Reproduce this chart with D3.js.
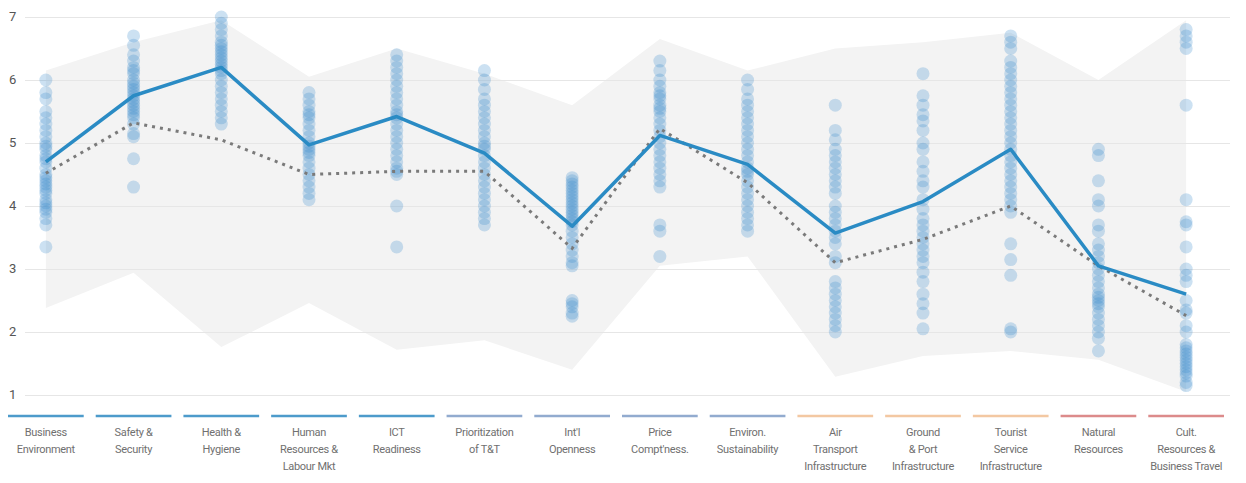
<!DOCTYPE html>
<html>
<head>
<meta charset="utf-8">
<script src="https://cdn.jsdelivr.net/npm/d3@7"></script>
<style>
  body{margin:0;background:#fff;}
  svg{display:block;}
  .lbl{font-family:Roboto,"Liberation Sans",sans-serif;font-size:11px;fill:#707070;letter-spacing:-0.3px;}
  .ytick{font-family:Roboto,"Liberation Sans",sans-serif;font-size:13px;fill:#555;}
</style>
</head>
<body>
<svg id="chart" width="1246" height="483"></svg>
<script>
// pillars
const pillars=["Business Environment","Safety & Security","Health & Hygiene","Human Resources & Labour Mkt","ICT Readiness","Prioritization of T&T","Int'l Openness","Price Compt'ness.","Environ. Sustainability","Air Transport Infrastructure","Ground & Port Infrastructure","Tourist Service Infrastructure","Natural Resources","Cult. Resources & Business Travel"];
const labelLines=[["Business","Environment"],["Safety &","Security"],["Health &","Hygiene"],["Human","Resources &","Labour Mkt"],["ICT","Readiness"],["Prioritization","of T&T"],["Int'l","Openness"],["Price","Compt'ness."],["Environ.","Sustainability"],["Air","Transport","Infrastructure"],["Ground","& Port","Infrastructure"],["Tourist","Service","Infrastructure"],["Natural","Resources"],["Cult.","Resources &","Business Travel"]];
const groupColors=["#4d9bcb","#4d9bcb","#4d9bcb","#4d9bcb","#4d9bcb","#92abcf","#92abcf","#92abcf","#92abcf","#f3c8a2","#f3c8a2","#f3c8a2","#dc8b8b","#dc8b8b"];

// solid line = selected, dotted = average
const mainValues=[4.7,5.75,6.2,4.97,5.42,4.84,3.68,5.12,4.66,3.57,4.07,4.9,3.05,2.6];
const avgValues=[4.52,5.32,5.05,4.5,4.55,4.55,3.33,5.23,4.37,3.1,3.47,4.0,3.05,2.26];

// grey range band
const bandMax=[6.15,6.6,6.95,6.05,6.5,6.1,5.6,6.65,6.15,6.5,6.6,6.75,6.0,6.95];
const bandMin=[2.38,2.94,1.76,2.46,1.72,1.87,1.4,3.05,3.2,1.29,1.62,1.7,1.56,1.05];

// country scores per pillar
const scores=[
  [6.0,5.8,5.7,5.5,5.4,5.3,5.2,5.1,5.0,4.95,4.9,4.8,4.75,4.7,4.6,4.5,4.45,4.4,4.35,4.3,4.25,4.2,4.1,4.05,4.0,3.95,3.9,3.8,3.7,3.35],
  [6.7,6.55,6.4,6.3,6.2,6.15,6.1,6.0,5.95,5.9,5.85,5.8,5.75,5.7,5.65,5.6,5.55,5.5,5.45,5.4,5.3,5.15,5.1,4.75,4.3],
  [7.0,6.9,6.8,6.7,6.6,6.55,6.5,6.45,6.4,6.35,6.3,6.25,6.2,6.15,6.1,6.0,5.9,5.8,5.7,5.6,5.5,5.4,5.3],
  [5.8,5.7,5.6,5.5,5.45,5.4,5.3,5.2,5.1,5.0,4.95,4.9,4.85,4.8,4.7,4.6,4.5,4.4,4.3,4.2,4.1],
  [6.4,6.3,6.2,6.1,6.0,5.9,5.8,5.7,5.6,5.5,5.45,5.4,5.3,5.2,5.1,5.0,4.9,4.8,4.7,4.6,4.55,4.5,4.0,3.35],
  [6.15,6.0,5.85,5.7,5.6,5.5,5.4,5.3,5.2,5.1,5.0,4.95,4.9,4.8,4.7,4.6,4.5,4.4,4.3,4.2,4.1,4.0,3.9,3.8,3.7],
  [4.45,4.4,4.35,4.3,4.25,4.2,4.15,4.1,4.05,4.0,3.95,3.9,3.85,3.8,3.75,3.7,3.6,3.5,3.4,3.3,3.2,3.1,3.05,2.5,2.45,2.4,2.3,2.25],
  [6.3,6.15,6.0,5.9,5.8,5.75,5.7,5.6,5.55,5.5,5.4,5.3,5.2,5.1,5.0,4.9,4.8,4.7,4.6,4.5,4.4,4.3,3.7,3.6,3.2],
  [6.0,5.85,5.7,5.6,5.5,5.4,5.3,5.2,5.1,5.0,4.9,4.8,4.7,4.6,4.55,4.5,4.4,4.3,4.2,4.1,4.0,3.9,3.8,3.7,3.6],
  [5.6,5.2,5.05,4.9,4.8,4.7,4.6,4.5,4.4,4.3,4.2,4.0,3.9,3.8,3.7,3.6,3.5,3.4,3.2,3.1,2.8,2.7,2.6,2.5,2.4,2.3,2.2,2.1,2.0],
  [6.1,5.75,5.6,5.45,5.35,5.2,5.0,4.9,4.7,4.55,4.4,4.3,4.1,3.95,3.8,3.7,3.6,3.5,3.4,3.3,3.2,3.1,2.95,2.8,2.6,2.45,2.3,2.05],
  [6.7,6.6,6.5,6.3,6.2,6.1,6.0,5.9,5.8,5.7,5.6,5.5,5.4,5.3,5.2,5.1,5.0,4.9,4.8,4.7,4.6,4.5,4.4,4.3,4.2,4.1,4.0,3.9,3.4,3.15,2.9,2.05,2.0],
  [4.9,4.8,4.4,4.1,4.0,3.7,3.6,3.4,3.3,3.2,3.1,3.0,2.9,2.8,2.7,2.6,2.55,2.5,2.45,2.4,2.3,2.2,2.1,2.0,1.9,1.7],
  [6.8,6.7,6.6,6.5,5.6,4.1,3.75,3.7,3.35,3.0,2.9,2.8,2.5,2.35,2.3,2.1,2.0,1.8,1.75,1.7,1.65,1.6,1.55,1.5,1.45,1.4,1.35,1.3,1.2,1.15]
];

const yTicks=[1,2,3,4,5,6,7];

const svg=d3.select('#chart');

const x=d3.scaleBand().domain(pillars).range([2,1230]).padding(0);
const cx=p=>x(p)+x.bandwidth()/2;
const y=d3.scaleLinear().domain([1,7]).range([395,17]);

// range band
const area=d3.area().x((d,i)=>cx(pillars[i])).y0((d,i)=>y(bandMin[i])).y1(d=>y(d));
svg.append('path').datum(bandMax).attr('d',area).attr('fill','#f3f3f3');

// grid
const yAxis=d3.axisLeft(y).tickValues(yTicks).tickSize(-1205).tickFormat('');
svg.append('g').attr('transform','translate(25,0)').call(yAxis)
  .call(g=>g.select('.domain').remove())
  .call(g=>g.selectAll('line').attr('stroke','#e6e6e6').attr('stroke-width',1));
svg.append('g').selectAll('text').data(yTicks).join('text')
  .attr('class','ytick').attr('x',9).attr('y',d=>y(d)+4).text(d=>d);

// dots
const pts=[];
scores.forEach((arr,i)=>arr.forEach(v=>pts.push({p:pillars[i],v:v})));
svg.append('g').selectAll('circle').data(pts).join('circle')
  .attr('cx',d=>cx(d.p)).attr('cy',d=>y(d.v)).attr('r',6.5)
  .attr('fill','#3a8bcc').attr('fill-opacity',0.26);

// lines
const line=d3.line().x((d,i)=>cx(pillars[i])).y(d=>y(d));
svg.append('path').datum(avgValues).attr('d',line).attr('fill','none')
  .attr('stroke','#7a7a7a').attr('stroke-width',3).attr('stroke-dasharray','3,5');
svg.append('path').datum(mainValues).attr('d',line).attr('fill','none')
  .attr('stroke','#2a8bc4').attr('stroke-width',3.5).attr('stroke-linejoin','round');

// category underlines and labels
const cat=svg.append('g').selectAll('g').data(pillars).join('g');
cat.append('line')
  .attr('x1',d=>x(d)+6).attr('x2',d=>x(d)+x.bandwidth()-6)
  .attr('y1',416).attr('y2',416)
  .attr('stroke',(d,i)=>groupColors[i]).attr('stroke-width',2.5);
cat.each(function(d,i){
  d3.select(this).selectAll('text').data(labelLines[i]).join('text')
    .attr('class','lbl').attr('text-anchor','middle')
    .attr('x',cx(d)).attr('y',(t,j)=>436+j*17).text(t=>t);
});
</script>
</body>
</html>
